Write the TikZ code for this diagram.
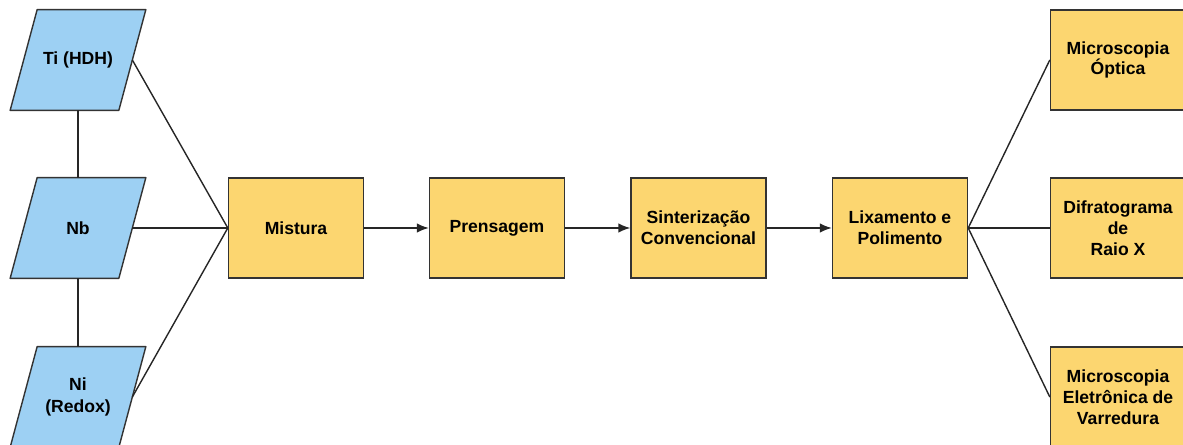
\documentclass[tikz,border=0pt]{standalone}
\usepackage{fontspec}
\setmainfont{Liberation Sans}
\usetikzlibrary{arrows.meta, backgrounds}
\definecolor{pobl}{HTML}{9DD0F3}
\definecolor{etyl}{HTML}{FCD670}
\tikzset{
	po/.style={rectangle, minimum width=2.16cm, minimum height=2cm, inner sep=1pt, align=center, font=\fontsize{10}{12}\selectfont\bfseries},
	pofundo/.style={draw=black!80, fill=pobl, line width=0.8pt, line join=round},
	etapa/.style={rectangle, draw=black!80, fill=etyl, line width=0.8pt, minimum width=2.7cm, minimum height=2cm, inner sep=1pt, align=center, font=\fontsize{10}{11.8}\selectfont\bfseries},
	liga/.style={line width=0.8pt, black!85}
}
\begin{document}
\begin{tikzpicture}[>={Latex[length=2.4mm, width=1.9mm]}]
		\useasboundingbox (0, 0) rectangle (23.66, 8.9);
		\node[po] (ti) at (1.56, 7.70) {Ti (HDH)};
		\node[po] (nb) at (1.56, 4.34) {Nb};
		\node[po] (ni) at (1.56, 0.96) {Ni\\(Redox)};
		\node[etapa] (mist) at (5.92, 4.34) {Mistura};
		\node[etapa] (pren) at (9.94, 4.34) {Prensagem};
		\node[etapa] (sint) at (13.97, 4.34) {Sinterização\\Convencional};
		\node[etapa] (lix) at (18.00, 4.34) {Lixamento e\\Polimento};
		\node[etapa] (mo) at (22.36, 7.70) {Microscopia\\Óptica};
		\node[etapa] (drx) at (22.36, 4.34) {Difratograma\\de\\Raio X};
		\node[etapa] (mev) at (22.36, 0.96) {Microscopia\\Eletrônica de\\Varredura};
		% parallelograms behind the powder labels
		\begin{scope}[on background layer]
			\foreach \p in {ti, nb, ni}
				\draw[pofundo] ([xshift=-2.7mm]\p.south west) -- ([xshift=-2.7mm]\p.south east) -- ([xshift=2.7mm]\p.north east) -- ([xshift=2.7mm]\p.north west) -- cycle;
			\draw[liga] (ti) -- (nb);
			\draw[liga] (nb) -- (ni);
		\end{scope}
		\draw[liga] (ti.east) -- (mist.west);
		\draw[liga] (nb.east) -- (mist.west);
		\draw[liga] (ni.east) -- (mist.west);
		\draw[liga, ->] (mist) -- (pren);
		\draw[liga, ->] (pren) -- (sint);
		\draw[liga, ->] (sint) -- (lix);
		\draw[liga] (lix.east) -- (mo.west);
		\draw[liga] (lix.east) -- (drx.west);
		\draw[liga] (lix.east) -- (mev.west);
	\end{tikzpicture}
\end{document}
